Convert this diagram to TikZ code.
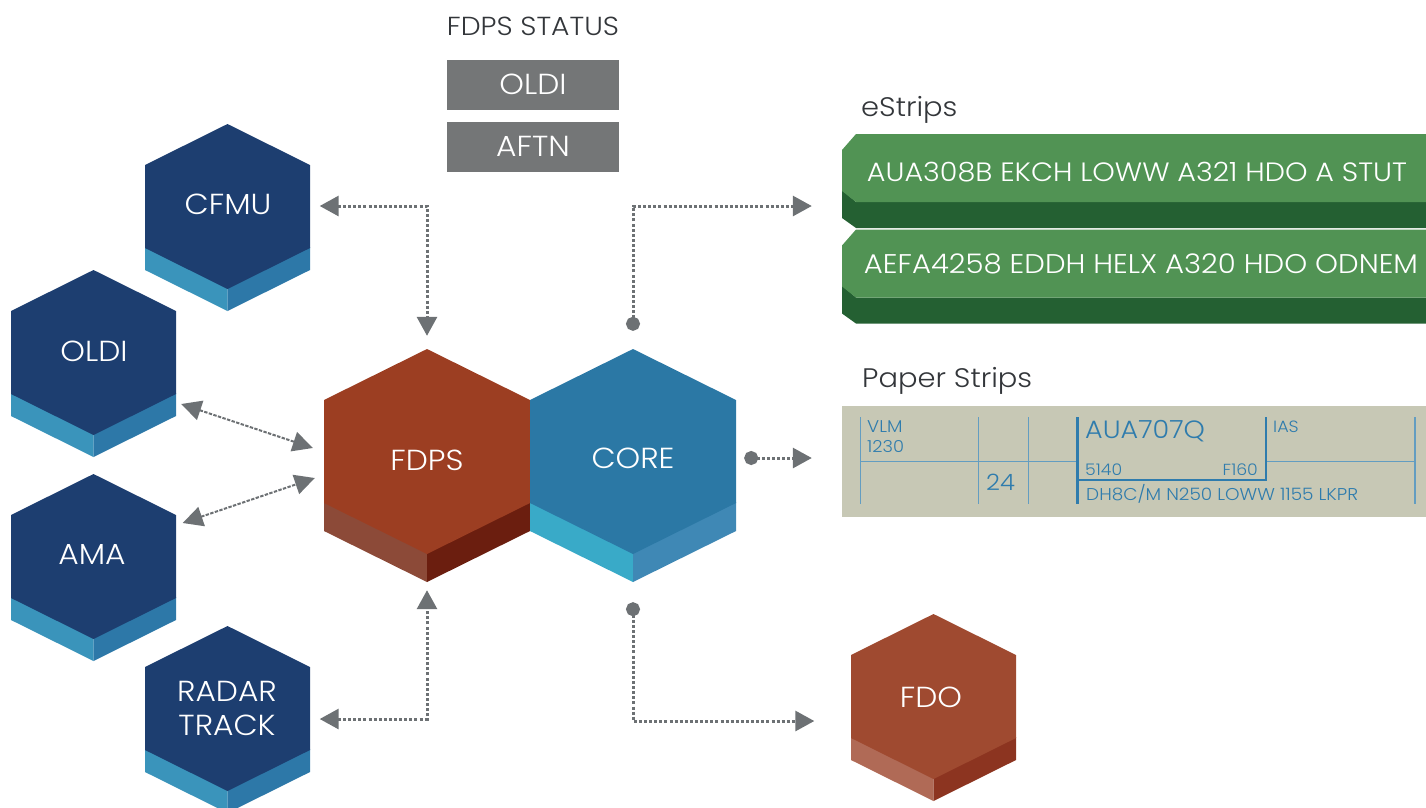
\documentclass[tikz,border=0pt]{standalone}
\usepackage{fontspec}
\setmainfont[FakeStretch=1.08,UprightFont=* Light]{Poppins}
\usetikzlibrary{arrows.meta}
\definecolor{navy}{HTML}{1D3E70}
\definecolor{navyL}{HTML}{3A94BB}
\definecolor{navyR}{HTML}{2D78A8}
\definecolor{fdpsF}{HTML}{9C3E22}
\definecolor{fdpsL}{HTML}{8C4A38}
\definecolor{fdpsR}{HTML}{6B1E0F}
\definecolor{coreF}{HTML}{2B78A5}
\definecolor{coreL}{HTML}{39AAC8}
\definecolor{coreR}{HTML}{3F88B5}
\definecolor{fdoF}{HTML}{9F4A30}
\definecolor{fdoL}{HTML}{B06A56}
\definecolor{fdoR}{HTML}{8C3420}
\definecolor{stripF}{HTML}{519354}
\definecolor{stripD}{HTML}{246032}
\definecolor{paperF}{HTML}{C7C8B5}
\definecolor{paperL}{HTML}{2F7CAD}
\definecolor{greyC}{HTML}{6D7174}
\definecolor{greyB}{HTML}{747677}
\definecolor{titleC}{HTML}{33363A}
\newcommand{\hexa}[9]{%
  % cx, top, half width, shoulder, face side height, depth, face, left, right
  \fill[#8] ({#1-#3},{#2+#4+#5-1}) -- (#1,{#2+2*#4+#5-1}) -- (#1,{#2+2*#4+#5+#6}) -- ({#1-#3},{#2+#4+#5+#6}) -- cycle;
  \fill[#9] ({#1+#3},{#2+#4+#5-1}) -- (#1,{#2+2*#4+#5-1}) -- (#1,{#2+2*#4+#5+#6}) -- ({#1+#3},{#2+#4+#5+#6}) -- cycle;
  \fill[#7] (#1,#2) -- ({#1+#3},{#2+#4}) -- ({#1+#3},{#2+#4+#5}) -- (#1,{#2+2*#4+#5}) -- ({#1-#3},{#2+#4+#5}) -- ({#1-#3},{#2+#4}) -- cycle;
}
\newcommand{\smallhexa}[5]{\hexa{#1}{#2}{82.5}{41}{83}{22}{#3}{#4}{#5}}
\newcommand{\greenstrip}[1]{%
  \fill[stripD] (842,{#1+56}) -- (856,{#1+68}) -- (1426,{#1+68}) -- (1426,{#1+94}) -- (856,{#1+94}) -- (842,{#1+84}) -- cycle;
  \fill[stripF] (856,#1) -- (1426,#1) -- (1426,{#1+68}) -- (856,{#1+68}) -- (842,{#1+57}) -- (842,{#1+16}) -- cycle;
}
\tikzset{
  x=1pt,y=-1pt,
  hexlabel/.style={text=white,inner sep=0pt,align=center,font=\fontsize{29}{34}\selectfont},
  smallhex/.style={hexlabel,minimum width=165pt,minimum height=165pt},
  bighex/.style={hexlabel,minimum width=206pt,minimum height=218pt},
  statusbox/.style={fill=greyB,text=white,minimum width=172pt,minimum height=50pt,inner sep=0pt,font=\fontsize{29}{30}\selectfont},
  title/.style={text=titleC,inner sep=0pt,font=\fontsize{26.8}{30}\selectfont},
  striptext/.style={text=white,inner sep=0pt,minimum width=584pt},
  paperbox/.style={fill=paperF,minimum width=584pt,minimum height=111pt,inner sep=0pt},
  ptext/.style={text=paperL,inner sep=0pt},
  thinl/.style={draw=paperL!75,line width=0.9pt},
  thickl/.style={draw=paperL,line width=2.4pt},
  dotconn/.style={draw=greyC,line width=3pt,dash pattern=on 3pt off 2.1pt},
  arrowconn/.style={dotconn,{Triangle[length=19pt,width=20pt,fill=greyC]}-{Triangle[length=19pt,width=20pt,fill=greyC]}},
  fromdot/.style={dotconn,{Circle[length=14pt,width=14pt,fill=greyC]}-{Triangle[length=19pt,width=20pt,fill=greyC]}},
  diag/.style={draw=greyC,line width=2pt,dash pattern=on 3.4pt off 1.4pt,{Triangle[length=20pt,width=20pt,fill=greyC]}-{Triangle[length=20pt,width=20pt,fill=greyC]}},
}
\begin{document}
\begin{tikzpicture}
\useasboundingbox (0,0) rectangle (1426,807);
% hexagons
\smallhexa{227.5}{124}{navy}{navyL}{navyR}
\smallhexa{93.5}{270}{navy}{navyL}{navyR}
\smallhexa{93.5}{474}{navy}{navyL}{navyR}
\smallhexa{227.5}{626}{navy}{navyL}{navyR}
\hexa{427}{349}{103}{51}{103}{28}{fdpsF}{fdpsL}{fdpsR}
\hexa{633}{349}{103}{51}{103}{28}{coreF}{coreL}{coreR}
\smallhexa{933.5}{614}{fdoF}{fdoL}{fdoR}
\node[smallhex] (cfmu) at (228,204) {CFMU};
\node[smallhex] (oldi) at (94,351) {OLDI};
\node[smallhex] (ama) at (92,554) {AMA};
\node[smallhex] (radar) at (227,708) {RADAR\\TRACK};
\node[bighex] (fdps) at (427,460) {FDPS};
\node[bighex] (core) at (633,458) {CORE};
\node[smallhex] (fdo) at (931,697) {FDO};
% status
\node[title,font=\fontsize{26.1}{30}\selectfont] (status) at (533,26) {FDPS STATUS};
\node[statusbox] (boxoldi) at (533,84.5) {OLDI};
\node[statusbox] (boxaftn) at (533,147) {\raisebox{1pt}{AFTN}};
% eStrips
\node[title,anchor=west] (estrips) at (861,110) {eStrips};
\greenstrip{134}
\greenstrip{229.5}
\node[striptext,font=\fontsize{26.5}{30}\selectfont] (strip1) at (1137,172) {AUA308B EKCH LOWW A321 HDO A STUT};
\node[striptext,font=\fontsize{27}{30}\selectfont] (strip2) at (1141,264) {AEFA4258 EDDH HELX A320 HDO ODNEM};
% paper strip
\node[title,anchor=west] (paperstrips) at (862,381) {Paper Strips};
\node[paperbox] (paper) at (1134,461.5) {};
\draw[thinl] (860,417) -- (860,504);
\draw[thinl] (978,417) -- (978,504);
\draw[thinl] (1028,417) -- (1028,504);
\draw[thinl] (860,461.5) -- (1077,461.5);
\draw[thinl] (1266,461.5) -- (1415,461.5);
\draw[draw=paperL!75,line width=1.5pt] (1415,417) -- (1415,504);
\draw[thickl] (1077.5,417) -- (1077.5,504);
\draw[thickl,line join=miter] (1077.5,480) -- (1266,480) -- (1266,417);
\node[ptext,anchor=west,font=\fontsize{17}{20}\selectfont] (vlm) at (867,427) {VLM};
\node[ptext,anchor=west,font=\fontsize{16.5}{20}\selectfont] (t1230) at (867,447) {1230};
\node[ptext,anchor=west,font=\fontsize{16.3}{20}\selectfont] (ias) at (1273,427) {IAS};
\node[ptext,font=\fontsize{22.5}{30}\selectfont] (n24) at (1000.5,482) {24};
\node[ptext,anchor=west,font=\fontsize{25}{30}\selectfont] (callsign) at (1085,431) {AUA707Q};
\node[ptext,anchor=west,font=\fontsize{16}{20}\selectfont] (t5140) at (1085,470) {5140};
\node[ptext,anchor=east,font=\fontsize{16}{20}\selectfont] (f160) at (1258,470) {F160};
\node[ptext,anchor=west,font=\fontsize{17.1}{20}\selectfont] (route) at (1086,494) {DH8C/M N250 LOWW 1155 LKPR};
% connectors
\draw[arrowconn] ([xshift=9pt,yshift=-2pt]cfmu.east) -| ([yshift=15pt]fdps.north);
\draw[arrowconn] ([xshift=10pt,yshift=-11pt]radar.east) -| ([yshift=-21pt]fdps.south);
\draw[diag] ([xshift=4.5pt,yshift=-53pt]oldi.east) -- ([xshift=-11pt,yshift=12pt]fdps.west);
\draw[diag] ([xshift=8pt,yshift=31pt]ama.east) -- ([xshift=-9pt,yshift=-18pt]fdps.west);
\draw[fromdot] ([yshift=18pt]core.north) |- ([xshift=-33pt,yshift=-34pt]strip1.west);
\draw[fromdot] ([xshift=8pt]core.east) -- ([xshift=-30pt,yshift=3.5pt]paper.west) ;
\draw[fromdot] ([yshift=-35pt]core.south) |- ([xshift=-34pt,yshift=-24pt]fdo.west);
\end{tikzpicture}
\end{document}
